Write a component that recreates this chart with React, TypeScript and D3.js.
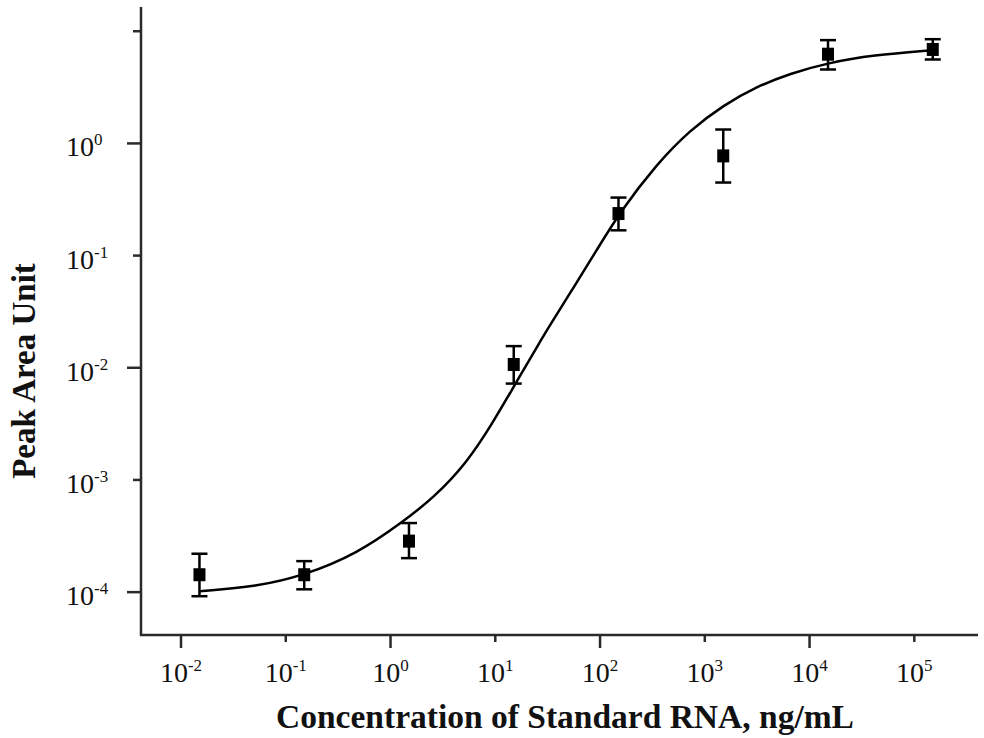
import React, { useEffect } from "react";
import * as d3 from "d3";

// ---- data ----
const concentrations = [0.015, 0.15, 1.5, 15, 150, 1500, 15000, 150000];
const peakArea = [1.43e-4, 1.43e-4, 2.85e-4, 0.0107, 0.237, 0.774, 6.24, 6.88];
const errLow = [9.2e-5, 1.06e-4, 2.01e-4, 0.00723, 0.168, 0.448, 4.56, 5.6];
const errHigh = [2.2e-4, 1.89e-4, 4.13e-4, 0.0156, 0.329, 1.33, 8.33, 8.49];

const fitX = [0.015, 0.053, 0.15, 0.48, 1.3, 2.6, 5.3, 9.6, 15, 25, 31, 56, 93, 155, 350, 720, 1500, 3100, 6500, 15000, 40000, 150000];
const fitY = [1.02e-4, 1.12e-4, 1.41e-4, 2.2e-4, 4.2e-4, 7.0e-4, 1.4e-3, 3.3e-3, 6.8e-3, 0.0153, 0.0216, 0.052, 0.112, 0.245, 0.66, 1.31, 2.19, 3.19, 4.2, 5.22, 6.12, 6.78];

const xTickExps = [-2, -1, 0, 1, 2, 3, 4, 5];
const yTickExps = [1, 0, -1, -2, -3, -4];
const yLabelExps = [0, -1, -2, -3, -4];

const xTitle = "Concentration of Standard RNA, ng/mL";
const yTitle = "Peak Area Unit";

// ---- layout ----
const W = 984;
const H = 738;
const left = 141;
const right = 978;
const top = 7;
const bottom = 635;
const FONT = "'Liberation Serif', 'Times New Roman', serif";
const AXIS = "#2a2a2a";

export default function App() {
  useEffect(() => {
    document.body.style.margin = "0";
  }, []);

  const x = d3
    .scaleLog()
    .domain([Math.pow(10, -2.382), Math.pow(10, 5.608)])
    .range([left, right]);
  const y = d3
    .scaleLog()
    .domain([Math.pow(10, -4.382), Math.pow(10, 1.216)])
    .range([bottom, top]);

  const line = d3
    .line<number>()
    .x((d, i) => x(fitX[i]))
    .y((d) => y(d))
    .curve(d3.curveBasis);

  const sq = 12;
  const cap = 8;

  return (
    <svg width={W} height={H} style={{ display: "block", background: "#fff" }}>
      {/* axes */}
      <line x1={left} y1={top} x2={left} y2={bottom + 1} stroke={AXIS} strokeWidth={2.5} />
      <line x1={left - 1} y1={bottom} x2={right} y2={bottom} stroke={AXIS} strokeWidth={2.5} />

      {/* x ticks */}
      {xTickExps.map((e) => {
        const px = x(Math.pow(10, e));
        const long = e % 2 === 0;
        return (
          <g key={"xt" + e}>
            <line x1={px} x2={px} y1={bottom} y2={bottom + (long ? 13 : 7)} stroke={AXIS} strokeWidth={2.5} />
            <text x={px} y={682} textAnchor="middle" fontFamily={FONT} fontSize={28} fill="#111">
              10
              <tspan fontSize={17} dy={-11}>
                {e < 0 ? "-" + Math.abs(e) : String(e)}
              </tspan>
            </text>
          </g>
        );
      })}

      {/* y ticks */}
      {yTickExps.map((e) => {
        const py = y(Math.pow(10, e));
        const long = e % 2 === 0;
        return (
          <line key={"yt" + e} x1={left - (long ? 14 : 8)} x2={left} y1={py} y2={py} stroke={AXIS} strokeWidth={2.5} />
        );
      })}
      {yLabelExps.map((e) => {
        const py = y(Math.pow(10, e));
        return (
          <text key={"yl" + e} x={66} y={py + 13} textAnchor="start" fontFamily={FONT} fontSize={28} fill="#111">
            10
            <tspan fontSize={17} dy={-11}>
              {e < 0 ? "-" + Math.abs(e) : String(e)}
            </tspan>
          </text>
        );
      })}

      {/* fit curve */}
      <path d={line(fitY) || ""} fill="none" stroke="#000" strokeWidth={2.5} />

      {/* error bars and markers */}
      {concentrations.map((c, i) => {
        const px = x(c);
        const yl = y(errLow[i]);
        const yh = y(errHigh[i]);
        return (
          <g key={"p" + i}>
            <line x1={px} x2={px} y1={yh} y2={yl} stroke="#000" strokeWidth={2.5} />
            <line x1={px - cap} x2={px + cap} y1={yh} y2={yh} stroke="#000" strokeWidth={2.5} />
            <line x1={px - cap} x2={px + cap} y1={yl} y2={yl} stroke="#000" strokeWidth={2.5} />
            <rect x={px - sq / 2} y={y(peakArea[i]) - sq / 2 - 0.5} width={sq} height={sq + 1} fill="#000" />
          </g>
        );
      })}

      {/* titles */}
      <text x={565} y={728} textAnchor="middle" fontFamily={FONT} fontWeight="bold" fontSize={33.5} fill="#111">
        {xTitle}
      </text>
      <text
        transform={`translate(35, ${371}) rotate(-90)`}
        textAnchor="middle"
        fontFamily={FONT}
        fontWeight="bold"
        fontSize={33}
        fill="#111"
      >
        {yTitle}
      </text>
    </svg>
  );
}
